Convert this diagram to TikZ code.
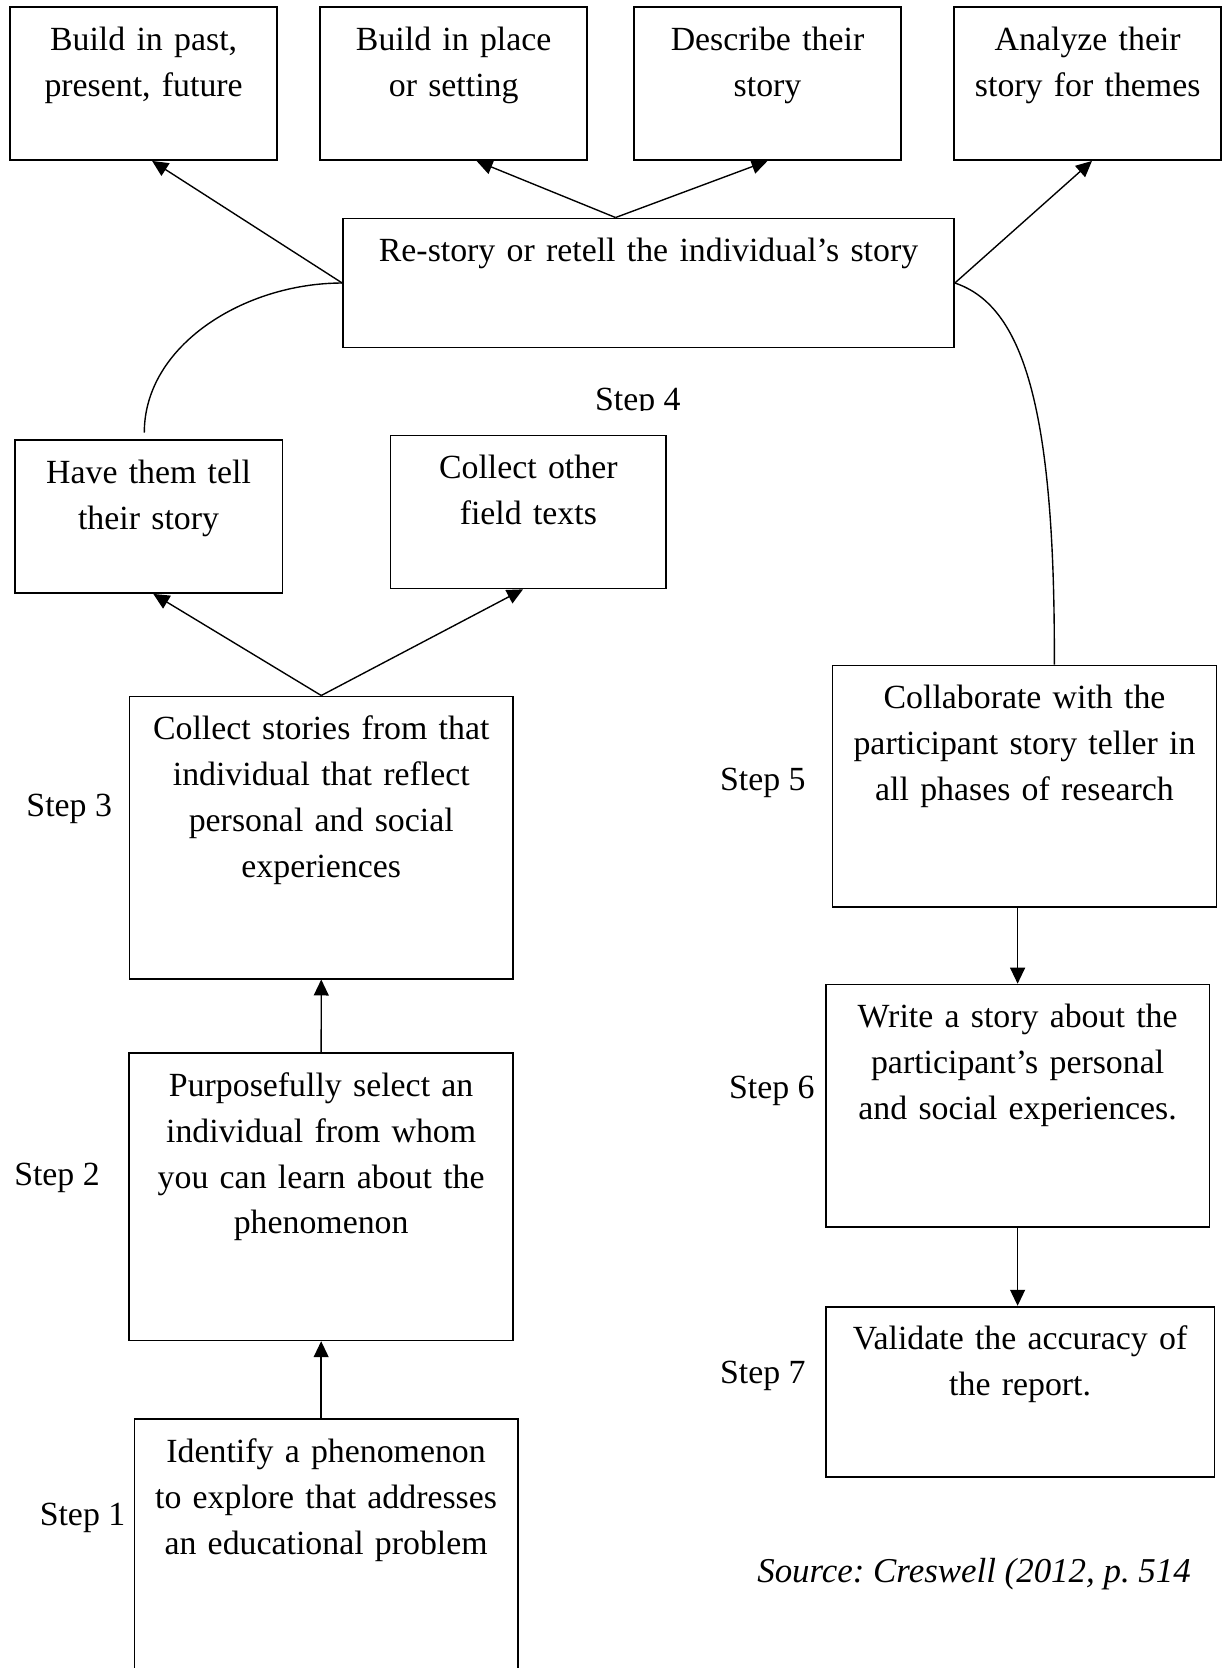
\documentclass[tikz,border=0pt]{standalone}
\usepackage{fontspec}
\setmainfont{Liberation Serif}
\usetikzlibrary{arrows.meta,calc,fit}
\frenchspacing
\begin{document}
\begin{tikzpicture}[x=0.5pt,y=-0.5pt,
  bx/.style={draw,line width=0.8pt,inner sep=0pt,rectangle},
  txt/.style={inner sep=0pt,anchor=base,align=center,text width=290pt,font=\fontsize{15.9pt}{21.6pt}\selectfont},
  lbl/.style={inner sep=0pt,anchor=base west,font=\fontsize{15.9pt}{21.6pt}\selectfont},
  con/.style={line width=0.65pt},
  arr/.style={con,-{Triangle[length=7.5pt,width=7pt]}}]
\useasboundingbox (0,0) rectangle (1153,1568);
\clip (0,0) rectangle (1153,1568);
\fill[white] (0,0) rectangle (1153,1568);

% boxes
\node[bx, fit={(9.5,6.5) (260.5,150.5)}] (A) {};
\node[bx, fit={(301,6.5) (552,150.5)}] (B) {};
\node[bx, fit={(596,6.5) (847,150.5)}] (C) {};
\node[bx, fit={(897,6.5) (1148,150.5)}] (D) {};
\node[bx, fit={(322.5,205.3) (896.8,326.8)}] (R) {};
\node[bx, fit={(13.8,413.4) (265.5,557.5)}] (E) {};
\node[bx, fit={(367,409.3) (626.3,553.2)}] (F) {};
\node[bx, fit={(121.6,654.6) (482.4,920)}] (B3) {};
\node[bx, fit={(121.5,989.7) (482.3,1260)}] (B2) {};
\node[bx, fit={(126.3,1334) (486.8,1600)}] (B1) {};
\node[bx, fit={(782.6,625.5) (1143.6,852.6)}] (B5) {};
\node[bx, fit={(776.2,925.5) (1137,1153.3)}] (B6) {};
\node[bx, fit={(776.2,1228.3) (1141.7,1388.3)}] (B7) {};

% texts
\node[txt] (tA) at ($(A.north)+(0,41.5)$) {Build in past,\\present, future};
\node[txt] (tB) at ($(B.north)+(0,41.5)$) {Build in place\\or setting};
\node[txt] (tC) at ($(C.north)+(0,41.5)$) {Describe their\\story};
\node[txt] (tD) at ($(D.north)+(0,41.5)$) {Analyze their\\story for themes};
\node[txt] (tR) at ($(R.north)+(0,41.5)$) {Re-story or retell the individual’s story};
\node[txt] (tE) at ($(E.north)+(0,41.5)$) {Have them tell\\their story};
\node[txt] (tF) at ($(F.north)+(0,41.5)$) {Collect other\\field texts};
\node[txt] (t3) at ($(B3.north)+(0,41.5)$) {Collect stories from that\\individual that reflect\\personal and social\\experiences};
\node[txt] (t2) at ($(B2.north)+(0,41.5)$) {Purposefully select an\\individual from whom\\you can learn about the\\phenomenon};
\node[txt] (t1) at ($(B1.north)+(0,41.5)$) {Identify a phenomenon\\to explore that addresses\\an educational problem};
\node[txt] (t5) at ($(B5.north)+(0,41.5)$) {Collaborate with the\\participant story teller in\\all phases of research};
\node[txt] (t6) at ($(B6.north)+(0,41.5)$) {Write a story about the\\participant’s personal\\and social experiences.};
\node[txt] (t7) at ($(B7.north)+(0,41.5)$) {Validate the accuracy of\\the report.};

% step labels
\node[lbl] (s1) at (37,1434) {Step 1};
\node[lbl] (s2) at (13,1114) {Step 2};
\node[lbl] (s3) at (24.5,768) {Step 3};
\begin{scope}
\clip (540,340) rectangle (660,386);
\node[lbl] (s4) at (559,386) {Step 4};
\end{scope}
\node[lbl] (s5) at (676.5,743) {Step 5};
\node[lbl] (s6) at (685,1032.5) {Step 6};
\node[lbl] (s7) at (676.5,1301) {Step 7};
\node[lbl, font=\fontsize{16.4pt}{21.6pt}\selectfont\itshape] (src) at (711.5,1487.5) {Source: Creswell (2012, p. 514};

% connectors
\draw[arr] (R.west) -- ($(A.south)+(8,0)$);
\draw[arr] ($(R.north)+(-31,0)$) -- ($(B.south)+(21.5,0)$);
\draw[arr] ($(R.north)+(-31,0)$) -- (C.south);
\draw[arr] (R.east) -- ($(D.south)+(4,0)$);
\draw[con] (R.west) .. controls ($(R.west)+(-92,0)$) and ($(E.north)+(-4,-88)$) .. ($(E.north)+(-4,-6)$);
\draw[con] (R.east) .. controls ($(R.east)+(63,21)$) and ($(B5.north)+(29,-245)$) .. ($(B5.north)+(28,0)$);
\draw[arr] (B3.north) -- ($(E.south)+(4.5,0)$);
\draw[arr] (B3.north) -- ($(F.south)+(-5,0)$);
\draw[arr] (B2.north) -- (B3.south);
\draw[arr] (B1.north -| B2.south) -- (B2.south);
\draw[arr] (B5.south -| B6.north) -- (B6.north);
\draw[arr] (B6.south) -- (B6.south |- B7.north);
\end{tikzpicture}
\end{document}
